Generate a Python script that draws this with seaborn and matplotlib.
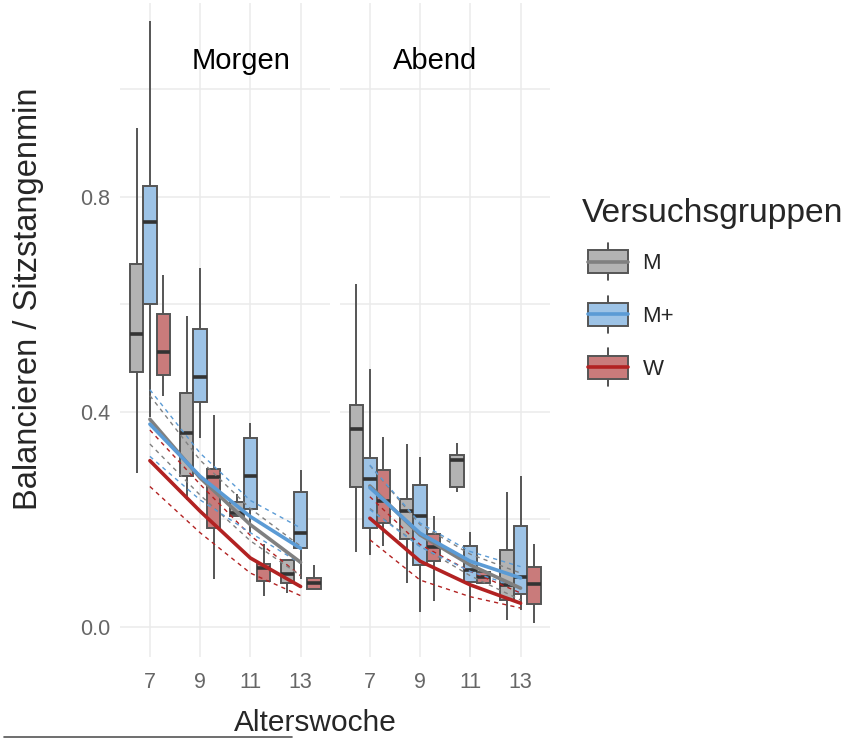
import numpy as np
import pandas as pd
import matplotlib
matplotlib.use("Agg")
import matplotlib.pyplot as plt
import seaborn as sns
from matplotlib.legend_handler import HandlerBase
from matplotlib.patches import Rectangle
from matplotlib.lines import Line2D

sns.set_theme(style="white")
plt.rcParams["font.family"] = ["Liberation Sans", "DejaVu Sans"]

# ---------------- data ----------------
weeks = [7, 9, 11, 13]
groups = ["M", "M+", "W"]
panels = ["Morgen", "Abend"]

# box stats per week: [lower whisker, q1, median, q3, upper whisker]
morgen_M = [[0.287, 0.474, 0.545, 0.675, 0.928],
            [0.236, 0.281, 0.361, 0.434, 0.579],
            [0.206, 0.206, 0.212, 0.233, 0.247],
            [0.063, 0.082, 0.099, 0.125, 0.125]]
morgen_Mplus = [[0.390, 0.601, 0.752, 0.820, 1.127],
                [0.351, 0.419, 0.465, 0.554, 0.668],
                [0.175, 0.219, 0.281, 0.351, 0.380],
                [0.089, 0.147, 0.175, 0.251, 0.292]]
morgen_W = [[0.430, 0.469, 0.512, 0.582, 0.655],
            [0.089, 0.184, 0.279, 0.294, 0.394],
            [0.058, 0.086, 0.110, 0.117, 0.154],
            [0.071, 0.071, 0.082, 0.091, 0.115]]

abend_M = [[0.140, 0.260, 0.368, 0.413, 0.638],
           [0.082, 0.164, 0.216, 0.238, 0.340],
           [0.251, 0.260, 0.311, 0.320, 0.342],
           [0.013, 0.050, 0.078, 0.143, 0.251]]
abend_Mplus = [[0.134, 0.184, 0.275, 0.314, 0.480],
               [0.028, 0.115, 0.207, 0.264, 0.316],
               [0.028, 0.084, 0.106, 0.151, 0.177],
               [0.032, 0.061, 0.093, 0.188, 0.281]]
abend_W = [[0.151, 0.193, 0.234, 0.292, 0.354],
           [0.048, 0.123, 0.149, 0.173, 0.206],
           [0.082, 0.082, 0.093, 0.102, 0.102],
           [0.007, 0.043, 0.080, 0.112, 0.154]]

# fitted curves with confidence bands
fit_weeks = [7, 9, 11, 13]
morgen_fit_M = [0.386, 0.277, 0.190, 0.120]
morgen_fit_Mplus = [0.377, 0.280, 0.205, 0.146]
morgen_fit_W = [0.309, 0.215, 0.128, 0.075]
morgen_up_M = [0.430, 0.310, 0.220, 0.150]
morgen_lo_M = [0.340, 0.245, 0.160, 0.095]
morgen_up_Mplus = [0.441, 0.323, 0.235, 0.184]
morgen_lo_Mplus = [0.317, 0.236, 0.175, 0.118]
morgen_up_W = [0.366, 0.265, 0.170, 0.095]
morgen_lo_W = [0.261, 0.175, 0.100, 0.058]

abend_fit_M = [0.262, 0.171, 0.115, 0.072]
abend_fit_Mplus = [0.259, 0.174, 0.122, 0.091]
abend_fit_W = [0.202, 0.122, 0.078, 0.044]
abend_up_M = [0.300, 0.190, 0.135, 0.100]
abend_lo_M = [0.220, 0.150, 0.095, 0.050]
abend_up_Mplus = [0.301, 0.193, 0.140, 0.112]
abend_lo_Mplus = [0.218, 0.149, 0.103, 0.072]
abend_up_W = [0.242, 0.153, 0.103, 0.063]
abend_lo_W = [0.162, 0.087, 0.056, 0.035]

box_stats = {
    "Morgen": {"M": morgen_M, "M+": morgen_Mplus, "W": morgen_W},
    "Abend": {"M": abend_M, "M+": abend_Mplus, "W": abend_W},
}
fits = {
    "Morgen": {"M": (morgen_fit_M, morgen_lo_M, morgen_up_M),
               "M+": (morgen_fit_Mplus, morgen_lo_Mplus, morgen_up_Mplus),
               "W": (morgen_fit_W, morgen_lo_W, morgen_up_W)},
    "Abend": {"M": (abend_fit_M, abend_lo_M, abend_up_M),
              "M+": (abend_fit_Mplus, abend_lo_Mplus, abend_up_Mplus),
              "W": (abend_fit_W, abend_lo_W, abend_up_W)},
}

box_rows, fit_rows = [], []
for p in panels:
    for g in groups:
        for w, st in zip(weeks, box_stats[p][g]):
            for v in st:
                box_rows.append({"panel": p, "group": g, "week": w, "value": v})
        f, lo, up = fits[p][g]
        for w, a, b, c in zip(fit_weeks, f, lo, up):
            fit_rows.append({"panel": p, "group": g, "week": w, "fit": a, "lower": b, "upper": c})
box_df = pd.DataFrame(box_rows)
fit_df = pd.DataFrame(fit_rows)

# ---------------- style ----------------
box_pal = {"M": "#B3B3B3", "M+": "#9DC3E6", "W": "#C97B7B"}
line_pal = {"M": "#808080", "M+": "#5B9BD5", "W": "#B22222"}
grid_c = "#EBEBEB"
tick_c = "#666666"

fig = plt.figure(figsize=(8.47, 7.38), dpi=100)
ax_pos = {"Morgen": [0.1417, 0.1098, 0.2479, 0.886],
          "Abend": [0.4014, 0.1098, 0.2479, 0.886]}
strip_x = {"Morgen": 0.575, "Abend": 0.455}
axes = {}
for i, p in enumerate(panels):
    ax = fig.add_axes(ax_pos[p], sharey=axes.get("Morgen"))
    axes[p] = ax
    sub = box_df[box_df.panel == p]
    sns.boxplot(data=sub, x="week", y="value", hue="group", hue_order=groups,
                palette=box_pal, native_scale=True, dodge=True, whis=(0, 100),
                showcaps=False, fliersize=0, saturation=1, linecolor="#555555",
                linewidth=1.4, medianprops=dict(color="#333333", linewidth=2.6),
                legend=False, ax=ax, zorder=2)
    fsub = fit_df[fit_df.panel == p]
    for col in ["upper", "lower"]:
        sns.lineplot(data=fsub, x="week", y=col, hue="group", hue_order=groups,
                     palette=line_pal, linewidth=1.0, linestyle=(0, (3, 3)),
                     legend=False, ax=ax, zorder=3)
    sns.lineplot(data=fsub, x="week", y="fit", hue="group", hue_order=groups,
                 palette=line_pal, linewidth=2.6, legend=False, ax=ax, zorder=4)

    ax.set_xlim(5.81, 14.17)
    ax.set_ylim(-0.056, 1.16)
    ax.set_xticks(weeks)
    ax.set_xticklabels([str(w) for w in weeks])
    ax.set_yticks([0.0, 0.4, 0.8])
    ax.set_yticks([0.2, 0.6, 1.0], minor=True)
    ax.grid(True, which="both", axis="y", color=grid_c, linewidth=1.1, zorder=0)
    ax.grid(True, which="major", axis="x", color=grid_c, linewidth=1.1, zorder=0)
    ax.set_axisbelow(True)
    for s in ax.spines.values():
        s.set_visible(False)
    ax.tick_params(axis="both", which="both", length=0, colors=tick_c, labelsize=15.5)
    ax.tick_params(axis="x", pad=11)
    ax.tick_params(axis="y", pad=7)
    ax.set_xlabel("")
    ax.set_ylabel("")
    ax.text(strip_x[p], 0.911, p, transform=ax.transAxes, ha="center", va="center",
            fontsize=21, color="black")
    if p == "Abend":
        ax.tick_params(axis="y", labelleft=False)
    else:
        ax.set_yticklabels(["0.0", "0.4", "0.8"])

fig.text(0.372, 0.021, "Alterswoche", ha="center", va="center", fontsize=21.5)
fig.text(0.034, 0.595, "Balancieren / Sitzstangenmin", ha="center", va="center",
         rotation=90, fontsize=23.5)


# ---------------- legend ----------------
class BoxKey:
    def __init__(self, fill, line):
        self.fill = fill
        self.line = line


class HandlerBoxKey(HandlerBase):
    def create_artists(self, legend, orig, xdescent, ydescent, width, height, fontsize, trans):
        x0, y0 = -xdescent + 5, -ydescent
        cx = x0 + width / 2
        ext = 0.32 * height
        wh = Line2D([cx, cx], [y0 - ext, y0 + height + ext], color="#333333", lw=1.2, transform=trans)
        rect = Rectangle((x0, y0), width, height, facecolor=orig.fill, edgecolor="#555555",
                         lw=1.4, transform=trans)
        hl = Line2D([x0, x0 + width], [y0 + height / 2] * 2, color=orig.line, lw=2.6, transform=trans)
        return [wh, rect, hl]


fig.text(0.687, 0.699, "Versuchsgruppen", ha="left", va="baseline", fontsize=24.2)
handles = [BoxKey(box_pal[g], line_pal[g]) for g in groups]
leg = fig.legend(handles, groups, loc="upper left",
                 bbox_to_anchor=(0.676, 0.673), frameon=False, fontsize=16,
                 handler_map={BoxKey: HandlerBoxKey()},
                 handlelength=1.8, handleheight=1.2, labelspacing=1.3,
                 handletextpad=0.95, borderaxespad=0)

fig.add_artist(Line2D([0.005, 0.345], [0.0015, 0.0015], transform=fig.transFigure,
                      color="#555555", lw=1.2))

fig.savefig("out.png", dpi=100)
